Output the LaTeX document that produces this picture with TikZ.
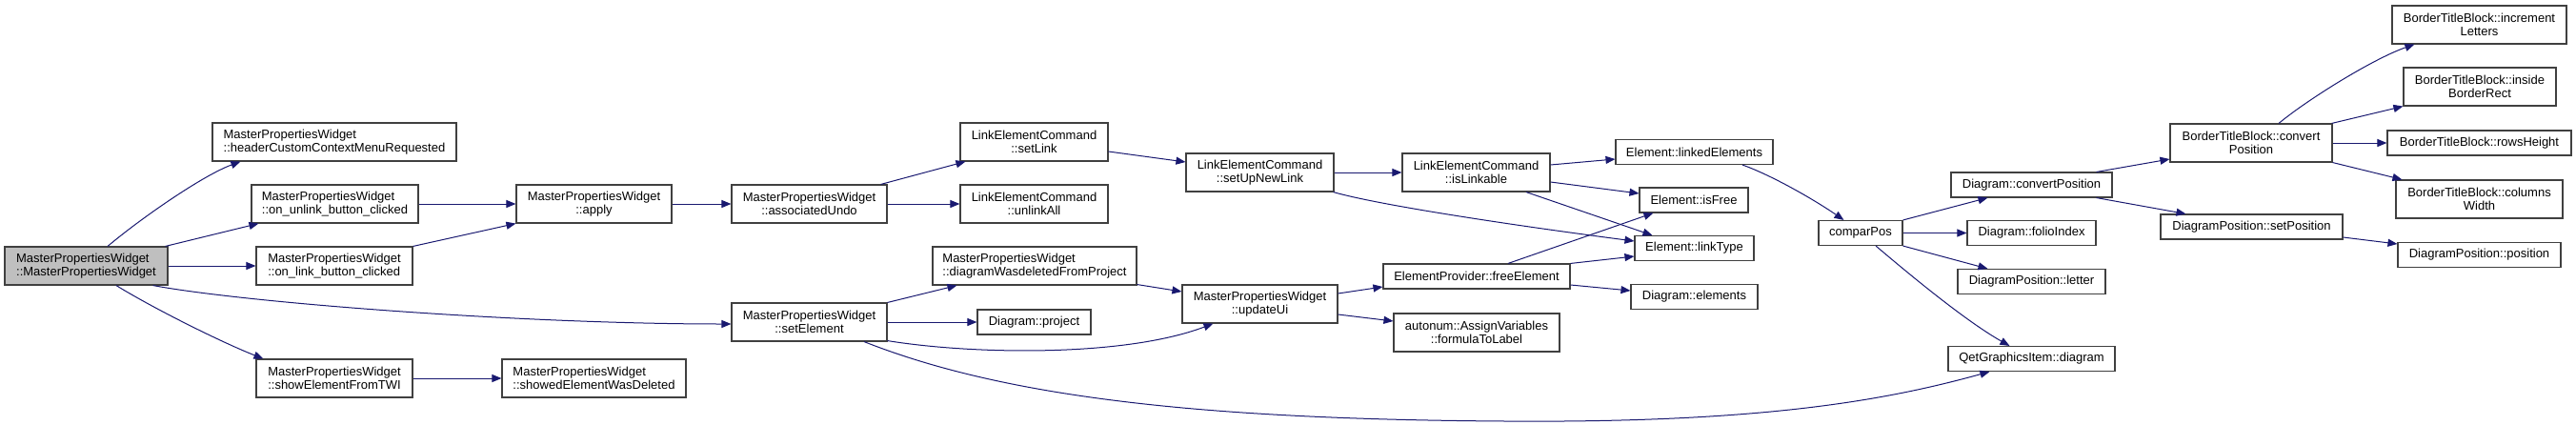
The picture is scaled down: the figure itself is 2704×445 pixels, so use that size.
\documentclass[tikz,border=0pt]{standalone}
\usepackage{fontspec}
\setmainfont{Liberation Sans}
\usetikzlibrary{arrows.meta}
\definecolor{edgeblue}{HTML}{191970}
\definecolor{boxgray}{HTML}{404040}
\definecolor{rootfill}{HTML}{BFBFBF}
\tikzset{
  box/.style={draw=boxgray, line width=1.1pt, fill=white, inner sep=0pt,
    font=\fontsize{13}{14}\selectfont, align=center, minimum height=26pt},
  tbox/.style={box, minimum height=40pt},
  lbox/.style={tbox, align=left},
  ed/.style={draw=edgeblue, line width=1pt, -{Triangle[length=10pt,width=8pt,fill=edgeblue]}}
}
\begin{document}
\begin{tikzpicture}[x=1pt,y=-1pt]
\useasboundingbox (0,0) rectangle (2704,445);
% nodes
\node[lbox, fill=rootfill, minimum width=171pt] (root) at (90.5,279) {MasterPropertiesWidget\\::MasterPropertiesWidget};
\node[lbox, minimum width=256pt] (header) at (351,149) {MasterPropertiesWidget\\::headerCustomContextMenuRequested};
\node[lbox, minimum width=175pt] (unlink) at (351.5,214) {MasterPropertiesWidget\\::on\_unlink\_button\_clicked};
\node[lbox, minimum width=164pt] (link) at (351,279) {MasterPropertiesWidget\\::on\_link\_button\_clicked};
\node[lbox, minimum width=164pt] (twi) at (351,397) {MasterPropertiesWidget\\::showElementFromTWI};
\node[tbox, minimum width=163pt] (apply) at (623.5,214) {MasterPropertiesWidget\\::apply};
\node[lbox, minimum width=193pt] (deleted) at (623.5,397) {MasterPropertiesWidget\\::showedElementWasDeleted};
\node[tbox, minimum width=163pt] (undo) at (849.5,214) {MasterPropertiesWidget\\::associatedUndo};
\node[tbox, minimum width=163pt] (setel) at (849.5,338) {MasterPropertiesWidget\\::setElement};
\node[tbox, minimum width=155pt] (setlink) at (1085.5,149) {LinkElementCommand\\::setLink};
\node[tbox, minimum width=155pt] (unlinkall) at (1085.5,214) {LinkElementCommand\\::unlinkAll};
\node[lbox, minimum width=214pt] (wasdel) at (1086,279) {MasterPropertiesWidget\\::diagramWasdeletedFromProject};
\node[box, minimum width=119pt] (project) at (1085.5,338) {Diagram::project};
\node[tbox, minimum width=155pt] (setup) at (1322.5,181) {LinkElementCommand\\::setUpNewLink};
\node[tbox, minimum width=163pt] (updateui) at (1322.5,319) {MasterPropertiesWidget\\::updateUi};
\node[tbox, minimum width=155pt] (islinkable) at (1549.5,181) {LinkElementCommand\\::isLinkable};
\node[box, minimum width=196pt] (free) at (1550,290) {ElementProvider::freeElement};
\node[tbox, minimum width=174pt] (formula) at (1550,349) {autonum::AssignVariables\\::formulaToLabel};
\node[box, minimum width=165pt] (linked) at (1778.5,159.5) {Element::linkedElements};
\node[box, minimum width=114pt] (isfree) at (1778,210) {Element::isFree};
\node[box, minimum width=125pt] (linktype) at (1778.5,260.5) {Element::linkType};
\node[box, minimum width=133pt] (elements) at (1778.5,311.5) {Diagram::elements};
\node[box, minimum width=88pt] (compar) at (1953,244.5) {comparPos};
\node[box, minimum width=169pt] (dconv) at (2132.5,194) {Diagram::convertPosition};
\node[box, minimum width=135pt] (folio) at (2132.5,244.5) {Diagram::folioIndex};
\node[box, minimum width=155pt] (letter) at (2132.5,295.5) {DiagramPosition::letter};
\node[box, minimum width=175pt] (qgi) at (2132.5,376.5) {QetGraphicsItem::diagram};
\node[tbox, minimum width=170pt] (bconv) at (2363,150) {BorderTitleBlock::convert\\Position};
\node[box, minimum width=191pt] (setpos) at (2363.5,238) {DiagramPosition::setPosition};
\node[tbox, minimum width=183pt] (incr) at (2602.5,26) {BorderTitleBlock::increment\\Letters};
\node[tbox, minimum width=160pt] (inside) at (2603,91) {BorderTitleBlock::inside\\BorderRect};
\node[box, minimum width=193pt] (rows) at (2602.5,150) {BorderTitleBlock::rowsHeight};
\node[tbox, minimum width=175pt] (cols) at (2602.5,209) {BorderTitleBlock::columns\\Width};
\node[box, minimum width=171pt] (pos) at (2602.5,267.5) {DiagramPosition::position};
% edges
\draw[ed] ([xshift=22.5pt]root.north) .. controls (148,229) and (213,184) .. ([xshift=30pt]header.south west);
\draw[ed] ([xshift=-3pt]root.north east) -- ([xshift=8pt]unlink.south west);
\draw[ed] (root.east) -- (link.west);
\draw[ed] ([xshift=-16pt]root.south east) .. controls (260,318) and (550,340) .. ([yshift=-2pt]setel.west);
\draw[ed] ([xshift=31.5pt]root.south) .. controls (160,323) and (232,359) .. ([xshift=8pt]twi.north west);
\draw[ed] (unlink.east) -- (apply.west);
\draw[ed] (link.north east) -- (apply.south west);
\draw[ed] (twi.east) -- (deleted.west);
\draw[ed] (apply.east) -- (undo.west);
\draw[ed] ([xshift=-7pt]undo.north east) -- ([xshift=6pt]setlink.south west);
\draw[ed] (undo.east) -- (unlinkall.west);
\draw[ed] ([yshift=-10pt]setlink.east) -- ([yshift=11pt]setup.west);
\draw[ed] (setup.east) -- (islinkable.west);
\draw[ed] ([xshift=-1pt]setup.south east) .. controls (1450,216) and (1600,238) .. ([yshift=7.5pt]linktype.west);
\draw[ed] ([yshift=8pt]islinkable.east) -- ([yshift=-7.5pt]linked.west);
\draw[ed] ([yshift=-10pt]islinkable.east) -- ([yshift=7pt]isfree.west);
\draw[ed] ([xshift=52.5pt]islinkable.south) -- ([xshift=19pt]linktype.north west);
\draw[ed] (setel.north east) -- ([xshift=26pt]wasdel.south west);
\draw[ed] (setel.east) -- (project.west);
\draw[ed] ([yshift=1pt]setel.south east) .. controls (1020,372) and (1180,375) .. ([xshift=33pt]updateui.south west);
\draw[ed] ([xshift=57.5pt]setel.south) .. controls (1050,415) and (1250,440) .. (1580,442) .. controls (1850,444) and (1980,420) .. ([xshift=44pt]qgi.south west);
\draw[ed] ([yshift=1pt]wasdel.south east) -- ([yshift=13pt]updateui.west);
\draw[ed] ([yshift=11pt]updateui.east) -- ([yshift=-11pt]free.west);
\draw[ed] ([yshift=-11pt]updateui.east) -- ([yshift=12pt]formula.west);
\draw[ed] ([xshift=33pt]free.north) -- ([xshift=15pt]isfree.south west);
\draw[ed] (free.north east) -- ([yshift=-8.5pt]linktype.west);
\draw[ed] ([yshift=-9pt]free.east) -- ([yshift=6.5pt]elements.west);
\draw[ed] ([xshift=50.5pt]linked.south) .. controls (1860,184) and (1905,210) .. ([xshift=27pt]compar.north west);
\draw[ed] (compar.north east) -- ([xshift=39pt]dconv.south west);
\draw[ed] (compar.east) -- (folio.west);
\draw[ed] (compar.south east) -- ([xshift=32pt]letter.north west);
\draw[ed] ([xshift=16pt]compar.south) .. controls (1995,280) and (2060,335) .. ([xshift=65pt]qgi.north west);
\draw[ed] ([xshift=-17pt]dconv.north east) -- ([yshift=-17pt]bconv.west);
\draw[ed] ([xshift=-17pt]dconv.south east) -- ([xshift=27pt]setpos.north west);
\draw[ed] ([xshift=29pt]bconv.north) .. controls (2420,106) and (2490,62) .. ([xshift=24pt]incr.south west);
\draw[ed] ([xshift=-1pt]bconv.north east) -- (inside.south west);
\draw[ed] (bconv.east) -- (rows.west);
\draw[ed] (bconv.south east) -- ([xshift=7pt]cols.north west);
\draw[ed] ([yshift=-11pt]setpos.east) -- ([yshift=11.5pt]pos.west);
\end{tikzpicture}
\end{document}
